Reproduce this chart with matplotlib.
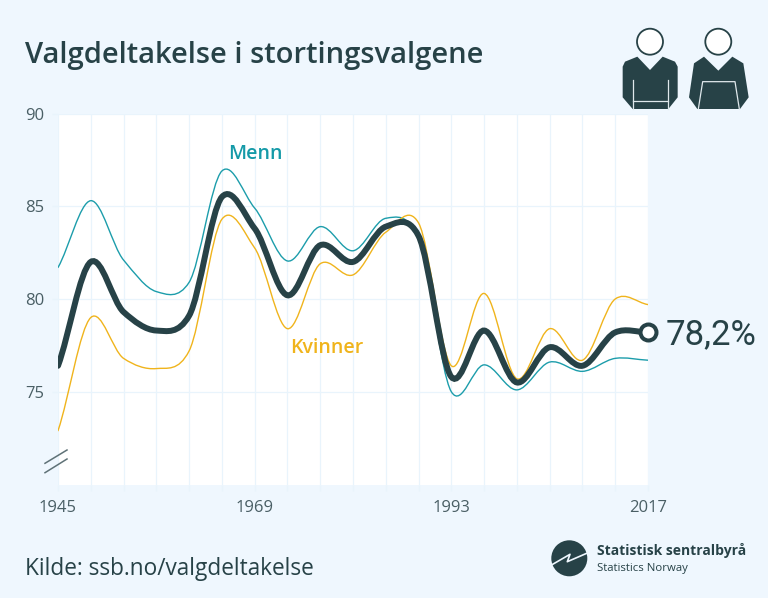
import numpy as np
import matplotlib
matplotlib.use("Agg")
import matplotlib.pyplot as plt
from matplotlib.path import Path
from matplotlib.patches import PathPatch, Circle, Polygon

# data
years = [1945, 1949, 1953, 1957, 1961, 1965, 1969, 1973, 1977, 1981,
         1985, 1989, 1993, 1997, 2001, 2005, 2009, 2013, 2017]
total = [76.4, 82.0, 79.3, 78.3, 79.1, 85.5, 83.8, 80.2, 82.9, 82.0,
         83.9, 83.4, 75.8, 78.3, 75.5, 77.4, 76.4, 78.2, 78.2]
menn = [81.7, 85.3, 82.1, 80.4, 80.9, 86.9, 84.9, 82.05, 83.9, 82.6,
        84.35, 83.3, 75.0, 76.45, 75.1, 76.6, 76.1, 76.8, 76.7]
kvinner = [72.9, 79.0, 76.8, 76.25, 77.2, 84.3, 82.75, 78.4, 81.9, 81.3,
           83.6, 84.1, 76.4, 80.3, 75.7, 78.4, 76.7, 80.0, 79.7]
y_ticks = [75, 80, 85, 90]
x_labels = [1945, 1969, 1993, 2017]

BG = "#eff7fe"
GRID = "#e9f4fc"
DARK = "#274247"
TEAL = "#1c9dab"
YELLOW = "#f0b41c"
TICK = "#4a5f65"
TENSION = 0.85


def spline_path(x, y):
    # catmull-rom through the values, as bezier segments
    x = np.array(x, dtype=float)
    y = np.array(y, dtype=float)
    dx = np.gradient(x)
    dy = np.gradient(y) * TENSION
    verts = [(x[0], y[0])]
    codes = [Path.MOVETO]
    for i in range(len(x) - 1):
        verts.append((x[i] + dx[i] / 3, y[i] + dy[i] / 3))
        verts.append((x[i + 1] - dx[i + 1] / 3, y[i + 1] - dy[i + 1] / 3))
        verts.append((x[i + 1], y[i + 1]))
        codes += [Path.CURVE4] * 3
    return Path(verts, codes)


fig = plt.figure(figsize=(7.68, 5.98), dpi=100, facecolor=BG)
W, H = 768, 598

ax = fig.add_axes([58 / W, 1 - 484.5 / H, 590 / W, 371 / H])
ax.set_facecolor("white")
ax.set_xlim(1945, 2017)
ax.set_ylim(70, 90)
for s in ax.spines.values():
    s.set_visible(False)

ax.set_xticks(years)
ax.set_xticklabels([str(v) if v in x_labels else "" for v in years],
                   fontfamily="Open Sans", fontsize=12, color=TICK)
ax.set_yticks(y_ticks)
ax.set_yticklabels([str(v) for v in y_ticks],
                   fontfamily="Open Sans", fontsize=12, color=TICK)
ax.tick_params(axis="x", length=4, color=GRID, width=1, pad=7)
ax.tick_params(axis="y", length=4, color=GRID, width=1, pad=6)
ax.grid(True, color=GRID, linewidth=0.9)
ax.set_axisbelow(True)

ax.add_patch(PathPatch(spline_path(years, menn), fill=False, edgecolor=TEAL,
                       linewidth=1.0, capstyle="round"))
ax.add_patch(PathPatch(spline_path(years, kvinner), fill=False, edgecolor=YELLOW,
                       linewidth=1.0, capstyle="round"))
ax.add_patch(PathPatch(spline_path(years, total), fill=False, edgecolor=DARK,
                       linewidth=4.3, capstyle="round"))
ax.plot(years[-1], total[-1], "o", ms=11.5, mfc="white", mec=DARK, mew=2.9,
        clip_on=False, zorder=5)

# overlay in pixel coordinates for everything outside the scales
ov = fig.add_axes([0, 0, 1, 1], facecolor="none")
ov.set_xlim(0, W)
ov.set_ylim(H, 0)
ov.axis("off")

ov.text(25, 56, "Valgdeltakelse i stortingsvalgene", fontfamily="Open Sans",
        fontweight="semibold", fontsize=21, color=DARK, va="center")
ov.text(228, 154, "Menn", fontfamily="Open Sans", fontweight="semibold",
        fontsize=14, color="#159aa8", va="center")
ov.text(290, 348, "Kvinner", fontfamily="Open Sans", fontweight="semibold",
        fontsize=14, color=YELLOW, va="center")
ov.text(666, 335, "78,2%", fontfamily="Roboto", fontsize=25, color=DARK, va="center")
ov.text(25, 569, "Kilde: ssb.no/valgdeltakelse", fontfamily="Open Sans",
        fontsize=16.3, color=DARK, va="center")

# axis break marks
ov.plot([45, 67], [463.3, 450], color="#5f7277", lw=1.1)
ov.plot([45, 67], [472.7, 459], color="#5f7277", lw=1.1)


def icon_pts(pts):
    # zoomed crop coordinates to figure pixels
    return [(600 + a / 3, 10 + b / 3) for a, b in pts]


# man
ov.add_patch(Circle((650, 41.7), 13, fc="white", ec=DARK, lw=1.3))
ov.add_patch(Polygon(icon_pts([(68, 170), (75, 155), (112, 140), (150, 180), (188, 140),
                               (225, 155), (233, 170), (233, 262), (205, 297),
                               (98, 297), (68, 262)]), fc=DARK, ec="none"))
for seg in ([(99, 210), (99, 297)], [(203, 210), (203, 297)], [(99, 273), (203, 273)]):
    xs, ys = zip(*icon_pts(seg))
    ov.plot(xs, ys, color="#dfe8ec", lw=0.9)

# woman
ov.add_patch(Circle((718.3, 41.7), 13, fc="white", ec=DARK, lw=1.3))
ov.add_patch(Polygon(icon_pts([(282, 160), (312, 140), (355, 182), (397, 140), (430, 160),
                               (446, 262), (420, 297), (292, 297), (267, 262)]),
                     fc=DARK, ec="none"))
xs, ys = zip(*icon_pts([(295, 297), (308, 215), (405, 215), (418, 297)]))
ov.plot(xs, ys, color="#dfe8ec", lw=0.9)

# logo
ov.add_patch(Circle((569.3, 558.3), 18, fc=DARK, ec="none"))
ov.plot([552.7, 570, 567.3, 586.7], [564.3, 554.3, 561.7, 553.3], color=BG, lw=1.2)
ov.text(597, 551, "Statistisk sentralbyrå", fontfamily="Open Sans", fontweight="bold",
        fontsize=10, color=DARK, va="center")
ov.text(597, 568, "Statistics Norway", fontfamily="Open Sans",
        fontsize=8.2, color=DARK, va="center")

fig.savefig("out.png", dpi=100, facecolor=BG)
